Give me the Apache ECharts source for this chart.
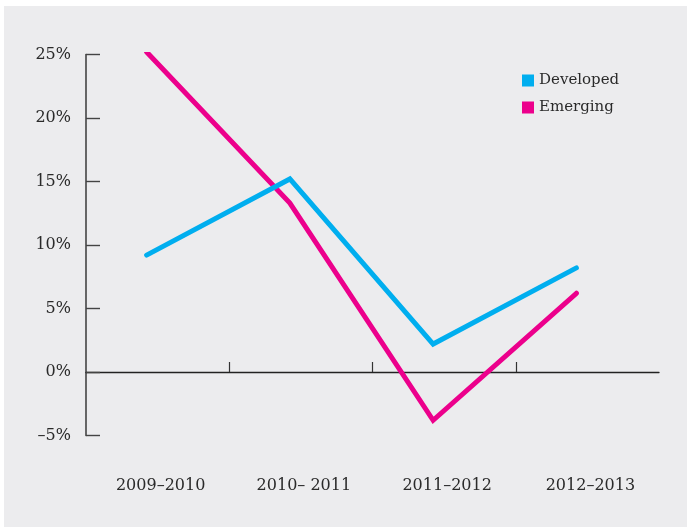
<!DOCTYPE html>
<html>
<head>
<meta charset="utf-8">
<script src="https://cdn.jsdelivr.net/npm/echarts@6/dist/echarts.min.js"></script>
<style>
  html, body { margin: 0; padding: 0; background: #ffffff; }
  #wrap { position: relative; width: 687px; height: 527px; background: #ffffff; overflow: hidden; }
  #chart { position: absolute; left: 4px; top: 6px; width: 683px; height: 521px; background: #ececee; }
</style>
</head>
<body>
<div id="wrap"><div id="chart"></div></div>
<script>
// Annual growth by market type
const periods = ['2009–2010', '2010– 2011', '2011–2012', '2012–2013'];
const developed = [9.2, 15.2, 2.2, 8.2];
const emerging = [25.2, 13.3, -3.8, 6.2];
const yTicks = [-5, 0, 5, 10, 15, 20, 25];
// period boundaries that get a tick mark on the zero line
const boundaryTicks = [1, 2, 3];

const serif = "'DejaVu Serif', 'Liberation Serif', serif";
const ink = '#2a2a2a';

const chart = echarts.init(document.getElementById('chart'), null, { renderer: 'canvas' });

const yMin = yTicks[0];
const yMax = yTicks[yTicks.length - 1];
const gridBox = { top: 48.5, width: 573, height: 381, outerBoundsMode: 'none', containLabel: false };

chart.setOption({
  animation: false,
  backgroundColor: '#ececee',
  legend: {
    orient: 'vertical',
    left: 513,
    top: 62,
    icon: 'rect',
    itemWidth: 12,
    itemHeight: 12,
    itemGap: 12,
    textStyle: { fontFamily: serif, fontSize: 15, color: ink },
    selectedMode: false,
    data: ['Developed', 'Emerging']
  },
  grid: [
    // axes frame
    Object.assign({ left: 82 }, gridBox),
    // plotted lines
    Object.assign({ left: 71 }, gridBox)
  ],
  xAxis: [
    {
      // zero line with boundary ticks
      type: 'value',
      gridIndex: 0,
      min: 0,
      max: periods.length,
      interval: 1,
      axisLine: { onZero: true, lineStyle: { color: '#222', width: 1.3 } },
      axisTick: { show: true, inside: true, length: 10, customValues: boundaryTicks,
        lineStyle: { color: '#333', width: 1.2 } },
      axisLabel: { show: false },
      splitLine: { show: false }
    },
    {
      // period labels along the bottom
      type: 'category',
      gridIndex: 0,
      position: 'bottom',
      data: periods,
      boundaryGap: true,
      axisLine: { show: false, onZero: false },
      axisTick: { show: false },
      axisLabel: { show: true, interval: 0, margin: 42, fontFamily: serif, fontSize: 16, color: ink,
        padding: [0, 0, 0, 6] },
      splitLine: { show: false }
    },
    {
      type: 'category',
      gridIndex: 1,
      data: periods,
      boundaryGap: true,
      show: false
    }
  ],
  yAxis: [
    {
      type: 'value',
      gridIndex: 0,
      min: yMin,
      max: yMax,
      interval: 5,
      axisLine: { show: true, lineStyle: { color: '#444', width: 1.6 } },
      axisTick: { show: true, inside: true, length: 14, lineStyle: { color: '#444', width: 1.4 } },
      axisLabel: {
        margin: 15,
        fontFamily: serif,
        fontSize: 16,
        color: ink,
        formatter: v => (v < 0 ? '–' + Math.abs(v) : v) + '%'
      },
      splitLine: { show: false }
    },
    {
      type: 'value',
      gridIndex: 1,
      min: yMin,
      max: yMax,
      interval: 5,
      show: false,
      splitLine: { show: false }
    }
  ],
  series: [
    {
      name: 'Developed',
      type: 'line',
      xAxisIndex: 2,
      yAxisIndex: 1,
      data: developed,
      showSymbol: false,
      symbol: 'none',
      color: '#00aeef',
      lineStyle: { width: 5, color: '#00aeef', cap: 'round', join: 'miter' },
      emphasis: { disabled: true },
      z: 3
    },
    {
      name: 'Emerging',
      type: 'line',
      xAxisIndex: 2,
      yAxisIndex: 1,
      data: emerging,
      showSymbol: false,
      symbol: 'none',
      color: '#ec008c',
      lineStyle: { width: 5, color: '#ec008c', cap: 'round', join: 'miter' },
      emphasis: { disabled: true },
      z: 2
    }
  ]
});
</script>
</body>
</html>
